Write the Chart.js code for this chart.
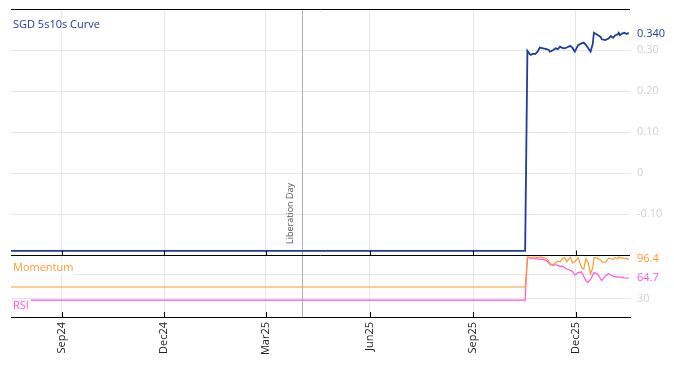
<!DOCTYPE html>
<html><head><meta charset="utf-8">
<script src="https://cdn.jsdelivr.net/npm/chart.js@4.4.1/dist/chart.umd.min.js"></script>
<style>html,body{margin:0;padding:0;background:#fff}#wrap{width:674px;height:366px;position:relative}</style>
</head><body><div id="wrap"><canvas id="c" width="674" height="366"></canvas></div>
<script>
// ---- data ----
const dates = ['2024-07-18','2025-10-17','2025-10-19','2025-10-21','2025-10-22','2025-10-24','2025-10-26','2025-10-28','2025-10-30',
 '2025-11-02','2025-11-05','2025-11-07','2025-11-08','2025-11-11','2025-11-13','2025-11-15','2025-11-17','2025-11-19','2025-11-21',
 '2025-11-23','2025-11-26','2025-11-28','2025-11-30','2025-12-03','2025-12-06','2025-12-08','2025-12-10','2025-12-12','2025-12-14',
 '2025-12-16','2025-12-17','2025-12-20','2025-12-23','2025-12-24','2025-12-27','2025-12-30','2026-01-01','2026-01-03','2026-01-05',
 '2026-01-07','2026-01-08','2026-01-09','2026-01-11','2026-01-13','2026-01-15','2026-01-16','2026-01-17'];
const curve = [-0.19,-0.19,0.298,0.290,0.288,0.291,0.290,0.296,0.306,
 0.304,0.302,0.300,0.296,0.300,0.304,0.302,0.308,0.305,0.304,
 0.306,0.310,0.305,0.296,0.312,0.316,0.318,0.312,0.304,0.296,
 0.315,0.342,0.337,0.332,0.326,0.324,0.328,0.334,0.330,0.336,
 0.338,0.342,0.336,0.340,0.342,0.339,0.341,0.340];
const momentum = [50,50,100,100,99,100,100,99,100,
 99,98,93,89,87,90,93,92,97,99,
 92,100,90,92,99,82,80,97,90,72,
 82,99,98,95,92,91,98,97,96,99,
 97,100,98,99,97,98,96,96.4];
const rsi = [28,28,98,99,98,98,97,97,96,
 96,94,90,87,86,87,86,84,85,82,
 80,78,76,70,74,75,68,60,58,63,
 70,74,72,63,61,68,72,70,68,67,
 67,66,67,66,65,65,65,64.7];
const xRange = ['2024-07-18','2026-01-18'];
const xTickDates = ['2024-09-01','2024-12-01','2025-03-01','2025-06-01','2025-09-01','2025-12-01'];
const xTickLabels = ['Sep24','Dec24','Mar25','Jun25','Sep25','Dec25'];
const curveTicks = [-0.10,0,0.10,0.20,0.30];
const curveTickLabels = ['-0.10','0','0.10','0.20','0.30'];
const oscTicks = [30,70];
const oscTickLabels = ['30',''];
const eventDate = '2025-04-02';
const eventLabel = 'Liberation Day';
const titles = {curve:'SGD 5s10s Curve', momentum:'Momentum', rsi:'RSI'};

// ---- styles ----
const FONT = '"Open Sans", sans-serif';
const C_CURVE = '#1f3d9c', C_MOM = '#ff9a2e', C_RSI = '#ff55dd';
const GRID = '#e6e6e6';
const t = s => Date.parse(s + 'T00:00:00Z');

const pts = arr => dates.map((d, i) => ({x: t(d), y: arr[i]}));
const noPad = s => { s.paddingTop = 0; s.paddingBottom = 0; s.paddingLeft = 0; s.paddingRight = 0; };

const extras = {
  id: 'extras',
  beforeDatasetsDraw(chart) {
    const ctx = chart.ctx, a = chart.chartArea, x = chart.scales.x;
    const ex = Math.round(x.getPixelForValue(t(eventDate))) + 0.5;
    ctx.save();
    ctx.strokeStyle = '#b0b0b0'; ctx.lineWidth = 1;
    ctx.beginPath(); ctx.moveTo(ex, a.top); ctx.lineTo(ex, a.bottom); ctx.stroke();
    ctx.translate(ex - 12, chart.scales.y.bottom - 11);
    ctx.rotate(-Math.PI / 2);
    ctx.fillStyle = '#555'; ctx.font = '9px ' + FONT;
    ctx.textAlign = 'left'; ctx.textBaseline = 'middle';
    ctx.fillText(eventLabel, 0, 0);
    ctx.restore();
  },
  afterDatasetsDraw(chart) {
    const ctx = chart.ctx, a = chart.chartArea, x = chart.scales.x, y = chart.scales.y, y2 = chart.scales.y2;
    ctx.save();
    ctx.strokeStyle = '#000'; ctx.lineWidth = 1;
    const sep = Math.round(y.bottom) + 0.5;
    ctx.beginPath();
    ctx.moveTo(a.left, Math.round(a.top) + 0.5); ctx.lineTo(a.right, Math.round(a.top) + 0.5);
    ctx.moveTo(a.left, sep); ctx.lineTo(a.right, sep);
    ctx.stroke();
    ctx.beginPath();
    xTickDates.forEach(d => {
      const px = Math.round(x.getPixelForValue(t(d))) + 0.5;
      ctx.moveTo(px, sep); ctx.lineTo(px, sep - 5);
      ctx.moveTo(px, a.bottom); ctx.lineTo(px, a.bottom - 5);
    });
    ctx.stroke();
    const label = (txt, lx, ly, col, bg) => {
      ctx.font = '11px ' + FONT;
      const w = ctx.measureText(txt).width;
      if (bg) { ctx.fillStyle = bg; ctx.fillRect(lx - 2, ly - 7, w + 4, 14); }
      ctx.fillStyle = col; ctx.textAlign = 'left'; ctx.textBaseline = 'middle';
      ctx.fillText(txt, lx, ly);
    };
    label(titles.curve, a.left + 2, a.top + 16, C_CURVE, 'rgba(255,255,255,0.9)');
    label(titles.momentum, a.left + 2, y.bottom + 13, C_MOM, 'rgba(255,255,255,0.9)');
    label(titles.rsi, a.left + 2, a.bottom - 11, C_RSI, 'rgba(255,255,255,0.8)');
    const lx = a.right + 7;
    label(curve[curve.length - 1].toFixed(3), lx, y.getPixelForValue(curve[curve.length - 1]), C_CURVE, '#fff');
    label(momentum[momentum.length - 1].toFixed(1), lx, y2.getPixelForValue(momentum[momentum.length - 1]), C_MOM, '#fff');
    label(rsi[rsi.length - 1].toFixed(1), lx, y2.getPixelForValue(rsi[rsi.length - 1]), C_RSI, '#fff');
    ctx.restore();
  }
};

new Chart(document.getElementById('c'), {
  type: 'line',
  data: {
    datasets: [
      {data: pts(curve), yAxisID: 'y', borderColor: C_CURVE, borderWidth: 1.8, pointRadius: 0, tension: 0},
      {data: pts(momentum), yAxisID: 'y2', borderColor: C_MOM, borderWidth: 1.2, pointRadius: 0, tension: 0},
      {data: pts(rsi), yAxisID: 'y2', borderColor: C_RSI, borderWidth: 1.2, pointRadius: 0, tension: 0}
    ]
  },
  options: {
    responsive: false, animation: false, events: [],
    layout: {padding: {left: 11, top: 9, right: 0, bottom: 0}},
    plugins: {legend: {display: false}, tooltip: {enabled: false}},
    scales: {
      x: {
        type: 'linear', min: t(xRange[0]), max: t(xRange[1]),
        afterBuildTicks: s => { s.ticks = xTickDates.map(d => ({value: t(d)})); },
        afterFit: s => { s.height = 49; noPad(s); },
        ticks: {
          autoSkip: false, maxRotation: 90, minRotation: 90, padding: 5,
          color: '#222', font: {family: FONT, size: 11},
          callback: (v, i) => xTickLabels[i]
        },
        grid: {color: GRID, drawTicks: false},
        border: {display: true, color: '#000', width: 1}
      },
      y: {
        position: 'right', stack: 'p', stackWeight: 246, offset: false,
        min: -0.2, max: 0.4,
        afterBuildTicks: s => { s.ticks = curveTicks.map(v => ({value: v})); },
        afterFit: s => { s.width = 44; noPad(s); },
        ticks: {padding: 7, color: '#d0d0d0', font: {family: FONT, size: 11},
          callback: (v, i) => curveTickLabels[i]},
        grid: {color: GRID, drawTicks: false},
        border: {display: false}
      },
      y2: {
        position: 'right', stack: 'p', stackWeight: 62, offset: false,
        min: 0, max: 103.3,
        afterBuildTicks: s => { s.ticks = oscTicks.map(v => ({value: v})); },
        afterFit: s => { s.width = 44; noPad(s); },
        ticks: {padding: 7, color: '#d0d0d0', font: {family: FONT, size: 11},
          callback: (v, i) => oscTickLabels[i]},
        grid: {color: GRID, drawTicks: false},
        border: {display: false}
      }
    }
  },
  plugins: [extras]
});
</script></body></html>
